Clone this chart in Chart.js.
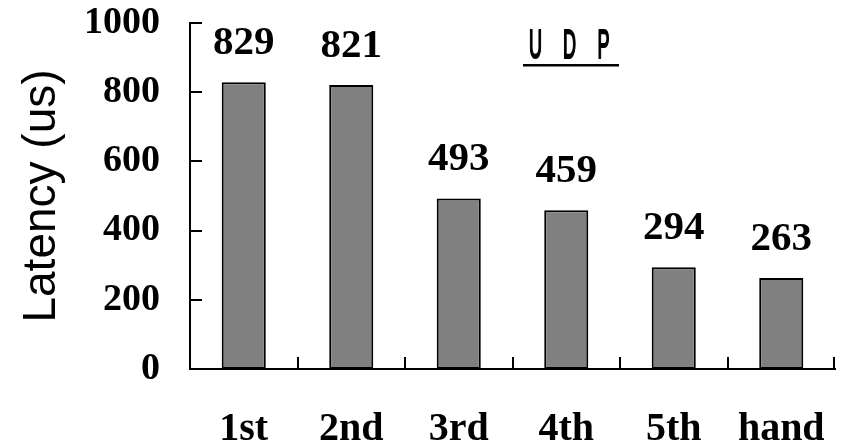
<!DOCTYPE html>
<html>
<head>
<meta charset="utf-8">
<script src="https://cdn.jsdelivr.net/npm/chart.js@4/dist/chart.umd.min.js"></script>
<style>
  html, body { margin: 0; padding: 0; background: #fff; }
  #wrap { width: 841px; height: 443px; }
</style>
</head>
<body>
<div id="wrap"><canvas id="c" width="841" height="443"></canvas></div>
<script>
// Categories and measured latency per stage
const categories = ['1st', '2nd', '3rd', '4th', '5th', 'hand'];
const latencyUs = [829, 821, 493, 459, 294, 263];
const yTicks = [0, 200, 400, 600, 800, 1000];
const panelTitle = 'UDP';
const yTitle = 'Latency (us)';

const serifBold = { family: "'Liberation Serif', 'Times New Roman', serif", weight: 'bold' };

// Inward tick marks on both axes, value labels above the bars, and the underlined panel title
const decorations = {
  id: 'decorations',
  afterDatasetsDraw(chart) {
    const { ctx, chartArea, scales } = chart;
    const x = scales.x, y = scales.y;
    ctx.save();
    ctx.strokeStyle = '#000';
    ctx.lineWidth = 2;
    // y ticks pointing into the plot
    yTicks.forEach(v => {
      const py = Math.round(y.getPixelForValue(v));
      ctx.beginPath();
      ctx.moveTo(chartArea.left, py);
      ctx.lineTo(chartArea.left + 12, py);
      ctx.stroke();
    });
    // x ticks at category boundaries
    const step = x.getPixelForValue(1) - x.getPixelForValue(0);
    for (let i = 1; i <= categories.length; i++) {
      const px = Math.min(x.getPixelForValue(i) - step / 2, chartArea.right - 1);
      ctx.beginPath();
      ctx.moveTo(Math.round(px), chartArea.bottom);
      ctx.lineTo(Math.round(px), chartArea.bottom - 12);
      ctx.stroke();
    }
    // value labels
    ctx.fillStyle = '#000';
    ctx.font = "bold 41px 'Liberation Serif', 'Times New Roman', serif";
    ctx.textAlign = 'center';
    ctx.textBaseline = 'alphabetic';
    const meta = chart.getDatasetMeta(0);
    meta.data.forEach((bar, i) => {
      ctx.fillText(String(latencyUs[i]), bar.x, bar.y - 28);
    });
    // condensed, spaced panel title with underline
    ctx.font = "40px 'Liberation Sans', Arial, sans-serif";
    ctx.textAlign = 'center';
    ctx.lineWidth = 2.2;
    ctx.lineJoin = 'round';
    const letters = panelTitle.split('');
    const startX = 535.5, stepX = 34, baseY = 58;
    letters.forEach((ch, i) => {
      ctx.save();
      ctx.translate(startX + i * stepX, baseY);
      ctx.scale(0.45, 1);
      ctx.fillText(ch, 0, 0);
      ctx.strokeText(ch, 0, 0);
      ctx.restore();
    });
    ctx.fillRect(523, 64, 96, 2.5);
    ctx.restore();
  }
};

new Chart(document.getElementById('c'), {
  type: 'bar',
  data: {
    labels: categories,
    datasets: [{
      data: latencyUs,
      backgroundColor: '#808080',
      borderColor: '#000',
      borderWidth: 2,
      borderSkipped: false,
      barPercentage: 0.41,
      categoryPercentage: 1
    }]
  },
  options: {
    responsive: false,
    animation: false,
    devicePixelRatio: 1,
    layout: { padding: { left: 0, right: 6, top: 23, bottom: 0 } },
    plugins: { legend: { display: false }, tooltip: { enabled: false }, title: { display: false } },
    scales: {
      x: {
        grid: { display: false, drawTicks: false },
        border: { display: true, color: '#000', width: 2 },
        ticks: {
          color: '#000',
          font: { ...serifBold, size: 40 },
          padding: 37,
          maxRotation: 0
        },
        afterFit(scale) {
          scale.height = 74;
          scale.paddingLeft = 0;
          scale.paddingRight = 0;
        }
      },
      y: {
        min: 0,
        max: 1000,
        grid: { display: false, drawTicks: false },
        border: { display: true, color: '#000', width: 2 },
        ticks: {
          stepSize: 200,
          color: '#000',
          font: { ...serifBold, size: 38 },
          padding: 30,
          callback: v => String(v)
        },
        title: {
          display: true,
          text: yTitle,
          color: '#000',
          font: { family: "'Liberation Sans', Arial, sans-serif", size: 46 },
          padding: { top: 15, bottom: 0 }
        },
        afterFit(scale) {
          scale.width = 190;
          scale.paddingTop = 0;
          scale.paddingBottom = 0;
        }
      }
    }
  },
  plugins: [decorations]
});
</script>
</body>
</html>
